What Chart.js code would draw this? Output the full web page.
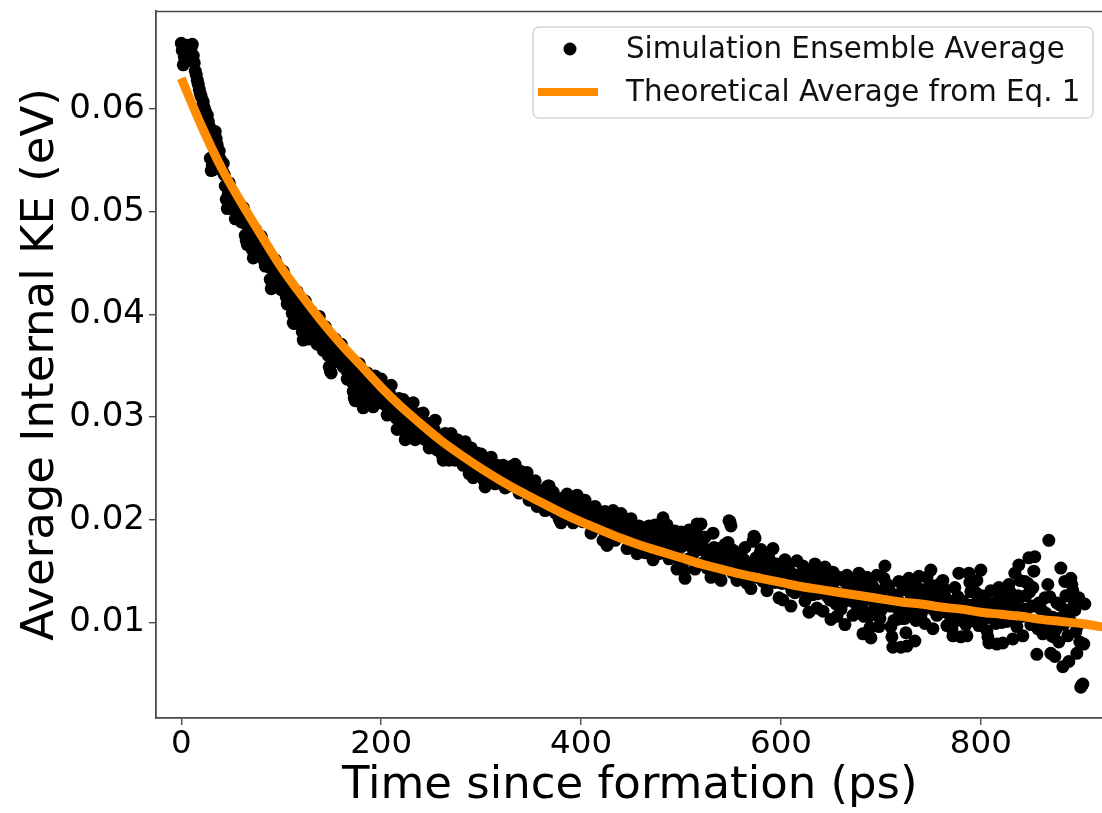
<!DOCTYPE html>
<html>
<head>
<meta charset="utf-8">
<script src="https://cdn.jsdelivr.net/npm/chart.js@4.4.1/dist/chart.umd.min.js"></script>
<style>
  html, body { margin: 0; padding: 0; background: #ffffff; overflow: hidden; }
  #wrap { width: 1102px; height: 813px; position: relative; overflow: hidden; }
</style>
</head>
<body>
<div id="wrap"><canvas id="chart" width="1110" height="813"></canvas></div>
<script>
// Simulation ensemble average, one sample per ps from t = 0 ps (eV)
const simStartPs = 0;
const simStepPs = 1;
const simKE = [
  0.0664,0.0657,0.0643,0.0651,0.0655,0.0659,0.0662,0.0654,0.0648,0.0656,0.0660,0.0663,0.0652,0.0645,0.0637,0.0633,0.0628,0.0624,0.0619,0.0615,
  0.0612,0.0603,0.0607,0.0601,0.0598,0.0590,0.0594,0.0588,0.0583,0.0552,0.0540,0.0545,0.0541,0.0566,0.0578,0.0571,0.0565,0.0556,0.0559,0.0551,
  0.0547,0.0540,0.0547,0.0536,0.0525,0.0512,0.0503,0.0517,0.0528,0.0520,0.0506,0.0510,0.0514,0.0502,0.0493,0.0509,0.0500,0.0496,0.0508,0.0499,
  0.0490,0.0497,0.0504,0.0489,0.0477,0.0472,0.0468,0.0480,0.0491,0.0484,0.0475,0.0463,0.0455,0.0470,0.0483,0.0474,0.0467,0.0461,0.0457,0.0468,
  0.0476,0.0466,0.0459,0.0452,0.0447,0.0456,0.0463,0.0454,0.0446,0.0434,0.0425,0.0430,0.0428,0.0441,0.0453,0.0444,0.0432,0.0436,0.0438,0.0429,
  0.0424,0.0434,0.0442,0.0431,0.0425,0.0417,0.0410,0.0420,0.0429,0.0420,0.0413,0.0401,0.0392,0.0391,0.0393,0.0409,0.0422,0.0412,0.0404,0.0398,
  0.0394,0.0383,0.0375,0.0396,0.0413,0.0404,0.0396,0.0385,0.0376,0.0391,0.0403,0.0392,0.0383,0.0388,0.0390,0.0379,0.0371,0.0386,0.0398,0.0386,
  0.0375,0.0370,0.0365,0.0378,0.0388,0.0380,0.0373,0.0360,0.0349,0.0345,0.0343,0.0356,0.0368,0.0373,0.0376,0.0365,0.0354,0.0355,0.0357,0.0365,
  0.0371,0.0360,0.0349,0.0353,0.0357,0.0346,0.0337,0.0348,0.0359,0.0352,0.0345,0.0334,0.0325,0.0319,0.0316,0.0329,0.0341,0.0347,0.0352,0.0335,
  0.0319,0.0313,0.0309,0.0320,0.0331,0.0338,0.0343,0.0331,0.0319,0.0324,0.0330,0.0319,0.0310,0.0326,0.0340,0.0329,0.0318,0.0322,0.0326,0.0332,
  0.0337,0.0325,0.0313,0.0321,0.0328,0.0315,0.0302,0.0306,0.0312,0.0322,0.0331,0.0316,0.0302,0.0306,0.0311,0.0299,0.0288,0.0303,0.0318,0.0309,
  0.0301,0.0309,0.0317,0.0297,0.0278,0.0283,0.0288,0.0299,0.0309,0.0302,0.0295,0.0305,0.0314,0.0296,0.0278,0.0286,0.0294,0.0299,0.0303,0.0296,
  0.0289,0.0297,0.0304,0.0291,0.0278,0.0286,0.0294,0.0282,0.0270,0.0282,0.0294,0.0286,0.0278,0.0288,0.0297,0.0283,0.0268,0.0275,0.0281,0.0275,
  0.0269,0.0263,0.0258,0.0271,0.0284,0.0277,0.0269,0.0263,0.0258,0.0271,0.0284,0.0277,0.0270,0.0264,0.0258,0.0268,0.0278,0.0269,0.0260,0.0266,
  0.0272,0.0262,0.0253,0.0265,0.0276,0.0268,0.0259,0.0252,0.0245,0.0258,0.0270,0.0255,0.0241,0.0248,0.0256,0.0261,0.0265,0.0255,0.0246,0.0255,
  0.0264,0.0254,0.0245,0.0238,0.0232,0.0244,0.0255,0.0245,0.0236,0.0249,0.0261,0.0252,0.0244,0.0239,0.0235,0.0244,0.0253,0.0246,0.0239,0.0240,
  0.0241,0.0247,0.0253,0.0242,0.0231,0.0238,0.0245,0.0239,0.0233,0.0243,0.0252,0.0244,0.0237,0.0246,0.0254,0.0249,0.0243,0.0234,0.0226,0.0236,
  0.0247,0.0245,0.0242,0.0234,0.0227,0.0237,0.0246,0.0232,0.0219,0.0226,0.0234,0.0227,0.0220,0.0229,0.0238,0.0225,0.0213,0.0221,0.0228,0.0222,
  0.0217,0.0223,0.0229,0.0219,0.0209,0.0221,0.0232,0.0233,0.0233,0.0224,0.0216,0.0222,0.0227,0.0217,0.0207,0.0214,0.0221,0.0211,0.0201,0.0199,
  0.0197,0.0209,0.0221,0.0212,0.0204,0.0215,0.0225,0.0216,0.0208,0.0214,0.0220,0.0208,0.0197,0.0205,0.0213,0.0219,0.0224,0.0213,0.0202,0.0210,
  0.0217,0.0207,0.0198,0.0209,0.0219,0.0210,0.0201,0.0206,0.0210,0.0198,0.0187,0.0189,0.0192,0.0203,0.0213,0.0206,0.0199,0.0204,0.0208,0.0206,
  0.0203,0.0191,0.0180,0.0194,0.0208,0.0191,0.0175,0.0186,0.0198,0.0193,0.0187,0.0198,0.0209,0.0194,0.0180,0.0190,0.0199,0.0194,0.0189,0.0198,
  0.0206,0.0196,0.0185,0.0193,0.0201,0.0187,0.0172,0.0181,0.0191,0.0196,0.0201,0.0189,0.0176,0.0184,0.0192,0.0180,0.0167,0.0181,0.0194,0.0185,
  0.0175,0.0184,0.0192,0.0180,0.0168,0.0177,0.0187,0.0191,0.0194,0.0185,0.0176,0.0168,0.0161,0.0178,0.0195,0.0189,0.0183,0.0175,0.0167,0.0176,
  0.0185,0.0194,0.0202,0.0186,0.0169,0.0182,0.0195,0.0179,0.0162,0.0174,0.0186,0.0178,0.0171,0.0180,0.0189,0.0171,0.0152,0.0163,0.0175,0.0182,
  0.0188,0.0174,0.0160,0.0150,0.0143,0.0161,0.0179,0.0185,0.0190,0.0177,0.0163,0.0173,0.0183,0.0168,0.0152,0.0174,0.0196,0.0184,0.0171,0.0184,
  0.0196,0.0177,0.0158,0.0171,0.0183,0.0168,0.0153,0.0162,0.0170,0.0157,0.0144,0.0166,0.0187,0.0173,0.0159,0.0166,0.0172,0.0160,0.0147,0.0143,
  0.0141,0.0155,0.0168,0.0173,0.0176,0.0165,0.0153,0.0178,0.0199,0.0198,0.0194,0.0171,0.0148,0.0158,0.0169,0.0155,0.0141,0.0150,0.0160,0.0164,
  0.0166,0.0157,0.0149,0.0161,0.0173,0.0155,0.0138,0.0148,0.0158,0.0145,0.0133,0.0156,0.0179,0.0184,0.0182,0.0163,0.0144,0.0153,0.0163,0.0167,
  0.0171,0.0155,0.0140,0.0148,0.0156,0.0143,0.0131,0.0147,0.0163,0.0153,0.0144,0.0158,0.0172,0.0155,0.0139,0.0148,0.0157,0.0140,0.0124,0.0139,
  0.0154,0.0138,0.0122,0.0142,0.0161,0.0150,0.0139,0.0147,0.0156,0.0136,0.0116,0.0131,0.0147,0.0138,0.0129,0.0145,0.0160,0.0146,0.0132,0.0133,
  0.0134,0.0145,0.0155,0.0138,0.0121,0.0133,0.0146,0.0128,0.0110,0.0130,0.0149,0.0138,0.0127,0.0142,0.0157,0.0136,0.0114,0.0128,0.0142,0.0146,
  0.0149,0.0130,0.0111,0.0133,0.0154,0.0140,0.0126,0.0134,0.0142,0.0122,0.0103,0.0126,0.0149,0.0140,0.0130,0.0118,0.0106,0.0125,0.0144,0.0128,
  0.0113,0.0127,0.0141,0.0120,0.0098,0.0122,0.0146,0.0136,0.0126,0.0131,0.0135,0.0121,0.0107,0.0124,0.0140,0.0128,0.0116,0.0132,0.0148,0.0144,
  0.0139,0.0114,0.0089,0.0106,0.0122,0.0133,0.0144,0.0125,0.0106,0.0095,0.0085,0.0110,0.0135,0.0125,0.0115,0.0131,0.0146,0.0121,0.0096,0.0104,
  0.0112,0.0122,0.0131,0.0143,0.0155,0.0136,0.0117,0.0127,0.0136,0.0116,0.0096,0.0086,0.0076,0.0102,0.0127,0.0115,0.0103,0.0122,0.0140,0.0108,
  0.0076,0.0104,0.0132,0.0118,0.0104,0.0090,0.0077,0.0110,0.0143,0.0129,0.0115,0.0125,0.0135,0.0108,0.0082,0.0102,0.0122,0.0134,0.0145,0.0126,
  0.0107,0.0117,0.0127,0.0113,0.0099,0.0121,0.0144,0.0133,0.0122,0.0137,0.0151,0.0122,0.0094,0.0112,0.0131,0.0119,0.0107,0.0122,0.0137,0.0123,
  0.0110,0.0125,0.0141,0.0133,0.0126,0.0111,0.0097,0.0109,0.0121,0.0111,0.0101,0.0094,0.0087,0.0110,0.0134,0.0118,0.0102,0.0125,0.0148,0.0117,
  0.0086,0.0103,0.0121,0.0115,0.0109,0.0098,0.0087,0.0117,0.0148,0.0139,0.0130,0.0116,0.0102,0.0110,0.0118,0.0129,0.0141,0.0119,0.0097,0.0124,
  0.0151,0.0126,0.0102,0.0113,0.0124,0.0108,0.0092,0.0086,0.0080,0.0105,0.0131,0.0118,0.0105,0.0112,0.0119,0.0099,0.0079,0.0106,0.0134,0.0127,
  0.0120,0.0100,0.0080,0.0103,0.0127,0.0114,0.0101,0.0119,0.0137,0.0130,0.0123,0.0103,0.0084,0.0116,0.0148,0.0122,0.0096,0.0126,0.0156,0.0141,
  0.0125,0.0106,0.0087,0.0113,0.0140,0.0126,0.0113,0.0138,0.0163,0.0130,0.0098,0.0116,0.0134,0.0150,0.0164,0.0116,0.0069,0.0094,0.0119,0.0116,
  0.0113,0.0101,0.0089,0.0106,0.0124,0.0109,0.0094,0.0137,0.0180,0.0125,0.0070,0.0087,0.0105,0.0086,0.0067,0.0093,0.0119,0.0100,0.0081,0.0117,
  0.0153,0.0105,0.0057,0.0098,0.0140,0.0126,0.0112,0.0087,0.0062,0.0102,0.0143,0.0137,0.0131,0.0121,0.0112,0.0091,0.0070,0.0097,0.0124,0.0081,
  0.0037,0.0039,0.0040,0.0079,0.0118
];

// Theoretical average (Eq. 1), read every 20 ps
const theoryTimePs = [
  0,20,40,60,80,100,120,140,160,180,200,220,240,260,280,300,320,340,360,380,
  400,420,440,460,480,500,520,540,560,580,600,620,640,660,680,700,720,740,760,780,
  800,820,840,860,880,900,920,940
];
const theoryKE = [
  0.0630,0.0584,0.0543,0.0509,0.0477,0.0446,0.0419,0.0394,0.0371,0.0350,
  0.0329,0.0310,0.0293,0.0277,0.0263,0.0250,0.0238,0.0227,0.0217,0.0207,
  0.0198,0.0190,0.0182,0.0175,0.0169,0.0163,0.0157,0.0152,0.0147,0.0143,
  0.0139,0.0135,0.0132,0.0129,0.0126,0.0123,0.0120,0.0118,0.0115,0.0113,
  0.0110,0.0108,0.0106,0.0103,0.0101,0.0099,0.0096,0.0094
];

const xTickValues = [0, 200, 400, 600, 800];
const yTickValues = [0.01, 0.02, 0.03, 0.04, 0.05, 0.06];

const seriesNames = ['Simulation Ensemble Average', 'Theoretical Average from Eq. 1'];

const simPoints = simKE.map((v, i) => ({ x: simStartPs + i * simStepPs, y: v }));
const theoryPoints = theoryKE.map((v, i) => ({ x: theoryTimePs[i], y: v }));

const FONT = "'DejaVu Sans', 'Liberation Sans', sans-serif";
const AXIS_COLOR = '#4a4a4a';
const ORANGE = '#ff8c00';

// Frame line along the top of the plotting area
const topFrame = {
  id: 'topFrame',
  afterDatasetsDraw(chart) {
    const { ctx, chartArea } = chart;
    ctx.save();
    ctx.strokeStyle = AXIS_COLOR;
    ctx.lineWidth = 1.6;
    ctx.beginPath();
    ctx.moveTo(chartArea.left, chartArea.top + 0.5);
    ctx.lineTo(chartArea.right + 2, chartArea.top + 0.5);
    ctx.stroke();
    ctx.restore();
  }
};

// Boxed legend in the upper right corner
const boxLegend = {
  id: 'boxLegend',
  afterDraw(chart) {
    const { ctx } = chart;
    const ds = chart.data.datasets;
    ctx.save();
    const bx = 533, by = 27, bw = 560, bh = 91, r = 6;
    ctx.beginPath();
    ctx.roundRect(bx, by, bw, bh, r);
    ctx.fillStyle = 'rgba(255,255,255,0.85)';
    ctx.fill();
    ctx.strokeStyle = '#d6d6d6';
    ctx.lineWidth = 1.5;
    ctx.stroke();

    // scatter marker
    ctx.fillStyle = '#000000';
    ctx.beginPath();
    ctx.arc(570, 49, 6.5, 0, Math.PI * 2);
    ctx.fill();
    // line handle
    ctx.strokeStyle = ORANGE;
    ctx.lineWidth = 8;
    ctx.lineCap = 'butt';
    ctx.beginPath();
    ctx.moveTo(538, 92);
    ctx.lineTo(598, 92);
    ctx.stroke();

    ctx.fillStyle = '#111111';
    ctx.font = `29.3px ${FONT}`;
    ctx.textBaseline = 'middle';
    ctx.textAlign = 'left';
    ctx.fillText(ds[1].label, 626, 50);
    ctx.fillText(ds[0].label, 626, 93);
    ctx.restore();
  }
};

new Chart(document.getElementById('chart'), {
  type: 'scatter',
  data: {
    datasets: [
      {
        label: seriesNames[1],
        data: theoryPoints,
        showLine: true,
        borderColor: ORANGE,
        backgroundColor: ORANGE,
        borderWidth: 9,
        pointRadius: 0,
        cubicInterpolationMode: 'monotone',
        order: 0
      },
      {
        label: seriesNames[0],
        data: simPoints,
        showLine: false,
        backgroundColor: '#000000',
        borderWidth: 0,
        pointRadius: 6.5,
        pointHoverRadius: 6.5,
        order: 1
      }
    ]
  },
  options: {
    responsive: false,
    animation: false,
    devicePixelRatio: 1,
    layout: { padding: { top: 11, right: 0, bottom: 0, left: 0 } },
    plugins: {
      legend: { display: false },
      tooltip: { enabled: false },
      title: { display: false }
    },
    scales: {
      x: {
        type: 'linear',
        min: -25.3,
        max: 922.7,
        afterBuildTicks(scale) { scale.ticks = xTickValues.map(v => ({ value: v })); },
        afterFit(scale) {
          scale.height = 95;
          scale.paddingLeft = 0; scale.paddingRight = 0;
          scale.paddingTop = 0; scale.paddingBottom = 0;
        },
        grid: { display: true, drawOnChartArea: false, drawTicks: true, tickLength: 7, color: AXIS_COLOR, lineWidth: 1.4 },
        border: { display: true, color: AXIS_COLOR, width: 1.8 },
        ticks: {
          color: '#000000',
          font: { family: FONT, size: 32.5 },
          padding: 0,
          maxRotation: 0,
          callback: v => String(v)
        },
        title: {
          display: true,
          text: 'Time since formation (ps)',
          color: '#000000',
          font: { family: FONT, size: 45 },
          padding: { top: 0, bottom: 0 }
        }
      },
      y: {
        type: 'linear',
        min: 0.0007,
        max: 0.06954,
        afterBuildTicks(scale) { scale.ticks = yTickValues.map(v => ({ value: v })); },
        afterFit(scale) {
          scale.width = 156;
          scale.paddingLeft = 0; scale.paddingRight = 0;
          scale.paddingTop = 0; scale.paddingBottom = 0;
        },
        grid: { display: true, drawOnChartArea: false, drawTicks: true, tickLength: 7, color: AXIS_COLOR, lineWidth: 1.4 },
        border: { display: true, color: AXIS_COLOR, width: 1.8 },
        ticks: {
          color: '#000000',
          font: { family: FONT, size: 34 },
          padding: 4,
          callback: v => Number(v).toFixed(2)
        },
        title: {
          display: true,
          text: 'Average Internal KE (eV)',
          color: '#000000',
          font: { family: FONT, size: 45 },
          padding: { top: 14, bottom: 0 }
        }
      }
    }
  },
  plugins: [topFrame, boxLegend]
});
</script>
</body>
</html>
